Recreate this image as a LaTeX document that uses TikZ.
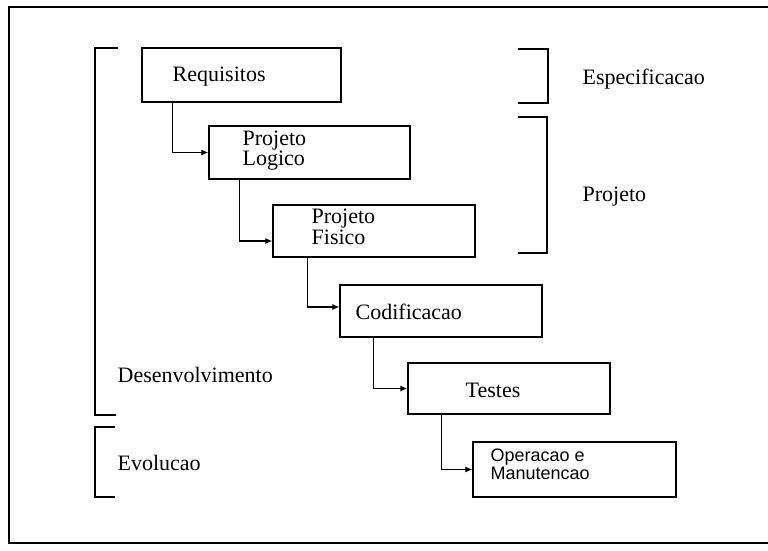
\documentclass[tikz,border=0pt]{standalone}
\usepackage{fontspec}
\setmainfont{Liberation Serif}
\newfontfamily\opfont{Liberation Sans}
\usetikzlibrary{arrows.meta}
\begin{document}
\begin{tikzpicture}[x=1pt,y=-1pt,
  line width=1.3pt,
  phase/.style={draw,rectangle,inner sep=0pt},
  lbl/.style={anchor=base west,inner sep=0pt,font=\fontsize{22}{20}\selectfont,align=left},
  oplbl/.style={lbl,font=\opfont\fontsize{18}{14}\selectfont},
  flow/.style={line width=1.2pt,-{Latex[length=7pt,width=6pt]}},
  brk/.style={line width=1.3pt}]
\useasboundingbox (0,0) rectangle (768,550);
\fill[white] (0,0) rectangle (768,550);

% outer frame (open on the right)
\draw[line width=1.2pt] (780,7) -- (9,7) -- (9,543) -- (780,543);

% phase boxes
\node[phase,minimum width=199pt,minimum height=54pt] (req) at (241.5,75) {};
\node[phase,minimum width=201pt,minimum height=53pt] (log) at (309.5,152.5) {};
\node[phase,minimum width=202pt,minimum height=52pt] (fis) at (374,231) {};
\node[phase,minimum width=202pt,minimum height=52pt] (cod) at (441,311) {};
\node[phase,minimum width=202pt,minimum height=51pt] (tes) at (509,388.5) {};
\node[phase,minimum width=203pt,minimum height=55pt] (ope) at (574.5,469.5) {};

% box texts
\node[lbl] (reqT) at (172,81) {Requisitos};
\node[lbl] (logT1) at (242,145) {Projeto};
\node[lbl] (logT2) at (242,165) {Logico};
\node[lbl] (fisT1) at (311,223) {Projeto};
\node[lbl] (fisT2) at (311,244) {Fisico};
\node[lbl] (codT) at (355,319) {Codificacao};
\node[lbl] (tesT) at (465,397) {Testes};
\node[oplbl] (opeT1) at (490,461) {Operacao e};
\node[oplbl] (opeT2) at (490,479) {Manutencao};

% waterfall connectors
\draw[flow] ([xshift=31pt]req.south west) |- (log.west);
\draw[flow] ([xshift=31pt]log.south west) |- ([yshift=-10pt]fis.west);
\draw[flow] ([xshift=35pt]fis.south west) |- ([yshift=4pt]cod.west);
\draw[flow] ([xshift=34pt]cod.south west) |- (tes.west);
\draw[flow] ([xshift=34pt]tes.south west) |- (ope.west);

% grouping brackets
\draw[brk] (118,48) -- (95,48) -- (95,415) -- (116,415);
\draw[brk] (115,427) -- (95,427) -- (95,497) -- (115,497);
\draw[brk] (518,49) -- (548,49) -- (548,103) -- (518,103);
\draw[brk] (518,117) -- (547,117) -- (547,253) -- (518,253);

% bracket labels
\node[lbl] (desT) at (117,382) {Desenvolvimento};
\node[lbl] (evoT) at (117,470) {Evolucao};
\node[lbl] (espT) at (582,84) {Especificacao};
\node[lbl] (proT) at (582,201) {Projeto};
\end{tikzpicture}
\end{document}
